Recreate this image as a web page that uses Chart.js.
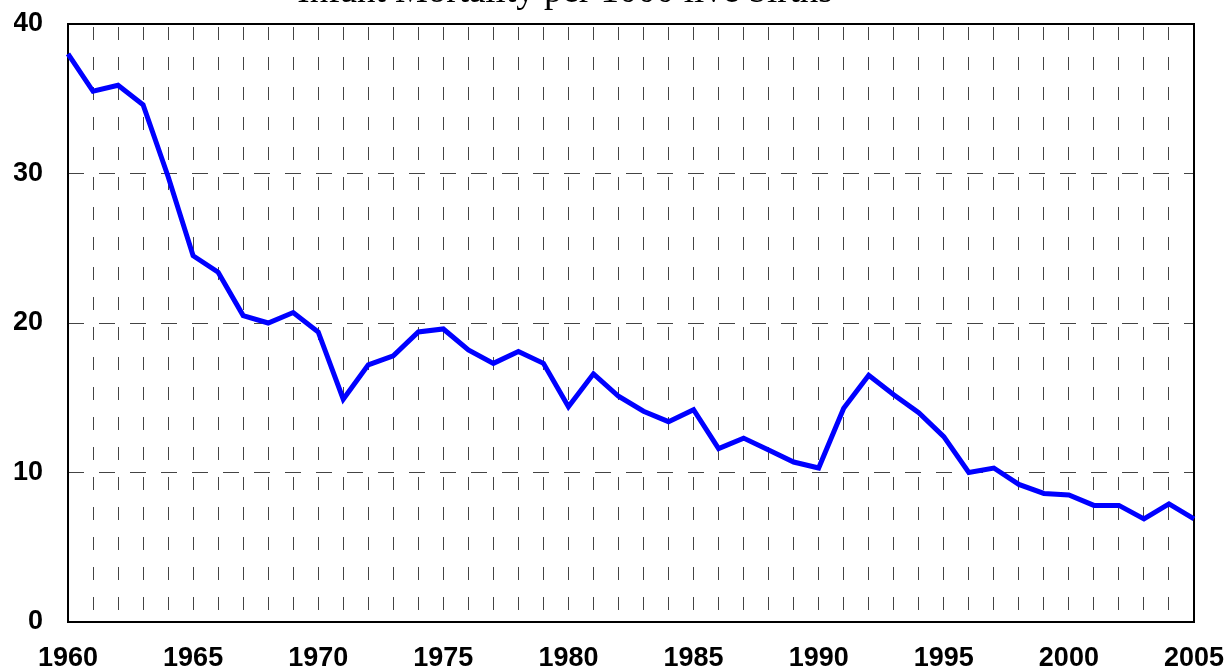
<!DOCTYPE html>
<html>
<head>
<meta charset="utf-8">
<script src="https://cdn.jsdelivr.net/npm/chart.js@4.4.1/dist/chart.umd.min.js"></script>
<style>
  html, body { margin: 0; padding: 0; background: #fff; overflow: hidden; }
  #wrap { position: relative; width: 1229px; height: 672px; overflow: hidden; }
  #chart { position: absolute; left: 0; top: 0; }
  #title {
    position: absolute; left: 565px; top: -29px; transform: translateX(-50%);
    white-space: nowrap; color: #000;
    font-family: "Liberation Serif", "Times New Roman", serif;
    font-size: 37px; line-height: 37px;
  }
</style>
</head>
<body>
<div id="wrap">
  <canvas id="chart" width="1229" height="676"></canvas>
  <div id="title">Infant Mortality per 1000 live births</div>
</div>
<script>
// Años y mortalidad infantil (por 1000 nacidos vivos)
const years = [
  1960, 1961, 1962, 1963, 1964, 1965, 1966, 1967, 1968, 1969,
  1970, 1971, 1972, 1973, 1974, 1975, 1976, 1977, 1978, 1979,
  1980, 1981, 1982, 1983, 1984, 1985, 1986, 1987, 1988, 1989,
  1990, 1991, 1992, 1993, 1994, 1995, 1996, 1997, 1998, 1999,
  2000, 2001, 2002, 2003, 2004, 2005
];
const mortality = [
  38.0, 35.5, 35.9, 34.6, 29.8, 24.5, 23.4, 20.5, 20.0, 20.7,
  19.4, 14.9, 17.2, 17.8, 19.4, 19.6, 18.2, 17.3, 18.1, 17.3,
  14.4, 16.6, 15.1, 14.1, 13.4, 14.2, 11.6, 12.3, 11.5, 10.7,
  10.3, 14.3, 16.5, 15.2, 14.0, 12.4, 10.0, 10.3, 9.2, 8.6,
  8.5, 7.8, 7.8, 6.9, 7.9, 6.9
];
const yTicks = [0, 10, 20, 30, 40];

const tickFont = { family: '"Liberation Sans", Arial, sans-serif', size: 27, weight: 'bold' };

// Marco negro alrededor del área del gráfico
const frame = {
  id: 'frame',
  beforeDatasetsDraw(chart) {
    const { ctx, chartArea: a } = chart;
    ctx.save();
    ctx.strokeStyle = '#000';
    ctx.lineWidth = 2;
    ctx.strokeRect(a.left, a.top, a.right - a.left, a.bottom - a.top);
    ctx.restore();
  }
};

new Chart(document.getElementById('chart'), {
  type: 'line',
  data: {
    labels: years,
    datasets: [{
      data: mortality,
      borderColor: '#0000FF',
      borderWidth: 5,
      pointRadius: 0,
      fill: false,
      tension: 0
    }]
  },
  options: {
    responsive: false,
    animation: false,
    devicePixelRatio: 1,
    layout: { padding: { left: 14, right: 35, top: 24, bottom: 2 } },
    plugins: {
      legend: { display: false },
      tooltip: { enabled: false },
      title: { display: false }
    },
    scales: {
      x: {
        type: 'category',
        offset: false,
        afterFit: (axis) => {
          axis.height = 52;
          axis.paddingLeft = 0;
          axis.paddingRight = 0;
        },
        grid: { color: '#444', lineWidth: 1, drawTicks: false },
        border: { display: false, dash: [13, 17], dashOffset: 27 },
        ticks: {
          autoSkip: false,
          maxRotation: 0,
          padding: 20,
          color: '#000',
          font: tickFont,
          callback: function (val, i) {
            const y = years[i];
            return y % 5 === 0 ? String(y) : '';
          }
        }
      },
      y: {
        min: 0,
        max: 40,
        afterFit: (axis) => {
          axis.width = 54;
          axis.paddingTop = 0;
          axis.paddingBottom = 0;
        },
        afterBuildTicks: (axis) => { axis.ticks = yTicks.map(v => ({ value: v })); },
        grid: { color: '#444', lineWidth: 1, drawTicks: false },
        border: { display: false, dash: [16, 15] },
        ticks: {
          padding: 25,
          color: '#000',
          font: tickFont
        }
      }
    }
  },
  plugins: [frame]
});
</script>
</body>
</html>
